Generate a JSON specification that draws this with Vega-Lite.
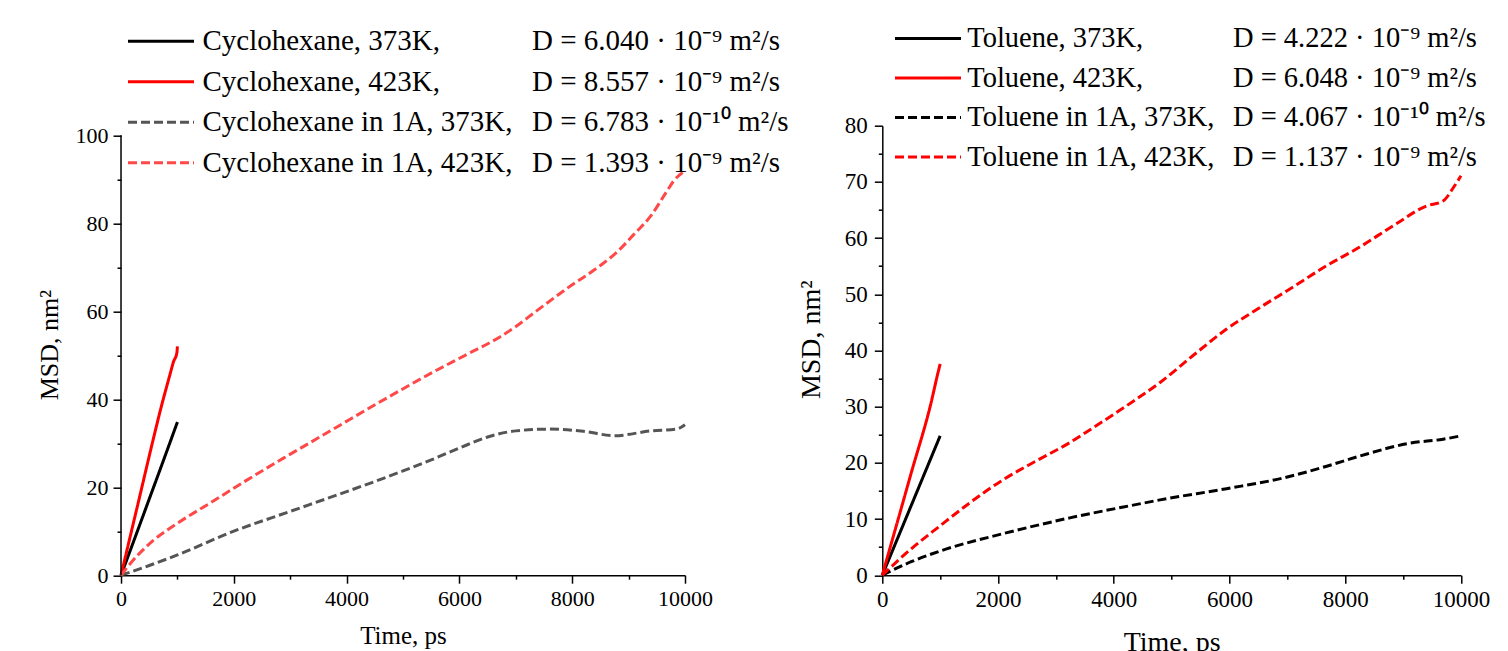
{
  "$schema": "https://vega.github.io/schema/vega-lite/v6.json",
  "background": "white",
  "padding": {"left": 36, "top": 23.7, "right": 0, "bottom": 0},
  "spacing": 8.3,
  "resolve": {
    "scale": {"color": "independent", "strokeDash": "independent", "shape": "independent"},
    "legend": {"color": "independent", "strokeDash": "independent", "shape": "independent"}
  },
  "config": {
    "view": {"stroke": null},
    "axis": {
      "grid": false,
      "labelFont": "Liberation Serif",
      "titleFont": "Liberation Serif",
      "labelColor": "#000",
      "titleColor": "#000",
      "titleFontWeight": "normal",
      "domainColor": "#000",
      "tickColor": "#000",
      "domainWidth": 1.5,
      "tickWidth": 1.5,
      "labelFlush": false,
      "labelOverlap": false,
      "format": "d"
    },
    "legend": {
      "labelFont": "Liberation Serif",
      "labelColor": "#000",
      "labelLimit": 1000,
      "padding": 0
    }
  },
  "datasets": {
    "cyclo": [
      {"s": "Cyclohexane, 373K,", "t": 0, "m": 0},
      {"s": "Cyclohexane, 373K,", "t": 250, "m": 8.6},
      {"s": "Cyclohexane, 373K,", "t": 500, "m": 17.3},
      {"s": "Cyclohexane, 373K,", "t": 750, "m": 26},
      {"s": "Cyclohexane, 373K,", "t": 1000, "m": 34.8},
      {"s": "Cyclohexane, 423K,", "t": 0, "m": 0},
      {"s": "Cyclohexane, 423K,", "t": 300, "m": 16.2},
      {"s": "Cyclohexane, 423K,", "t": 600, "m": 32.4},
      {"s": "Cyclohexane, 423K,", "t": 700, "m": 37.6},
      {"s": "Cyclohexane, 423K,", "t": 870, "m": 45.7},
      {"s": "Cyclohexane, 423K,", "t": 930, "m": 48.5},
      {"s": "Cyclohexane, 423K,", "t": 990, "m": 50.5},
      {"s": "Cyclohexane, 423K,", "t": 1000, "m": 52},
      {"s": "Cyclohexane in 1A, 373K,", "t": 0, "m": 0},
      {"s": "Cyclohexane in 1A, 373K,", "t": 500, "m": 2.2},
      {"s": "Cyclohexane in 1A, 373K,", "t": 1000, "m": 4.6},
      {"s": "Cyclohexane in 1A, 373K,", "t": 2000, "m": 10},
      {"s": "Cyclohexane in 1A, 373K,", "t": 3000, "m": 14.5},
      {"s": "Cyclohexane in 1A, 373K,", "t": 4000, "m": 19},
      {"s": "Cyclohexane in 1A, 373K,", "t": 4500, "m": 21.3},
      {"s": "Cyclohexane in 1A, 373K,", "t": 5000, "m": 23.7},
      {"s": "Cyclohexane in 1A, 373K,", "t": 5500, "m": 26.2},
      {"s": "Cyclohexane in 1A, 373K,", "t": 6000, "m": 28.9},
      {"s": "Cyclohexane in 1A, 373K,", "t": 6500, "m": 31.4},
      {"s": "Cyclohexane in 1A, 373K,", "t": 7000, "m": 32.8},
      {"s": "Cyclohexane in 1A, 373K,", "t": 7600, "m": 33.2},
      {"s": "Cyclohexane in 1A, 373K,", "t": 8200, "m": 32.7},
      {"s": "Cyclohexane in 1A, 373K,", "t": 8750, "m": 31.7},
      {"s": "Cyclohexane in 1A, 373K,", "t": 9400, "m": 32.8},
      {"s": "Cyclohexane in 1A, 373K,", "t": 9850, "m": 33.2},
      {"s": "Cyclohexane in 1A, 373K,", "t": 10000, "m": 34.2},
      {"s": "Cyclohexane in 1A, 423K,", "t": 0, "m": 0},
      {"s": "Cyclohexane in 1A, 423K,", "t": 300, "m": 4.6},
      {"s": "Cyclohexane in 1A, 423K,", "t": 573, "m": 7.9},
      {"s": "Cyclohexane in 1A, 423K,", "t": 1000, "m": 11.8},
      {"s": "Cyclohexane in 1A, 423K,", "t": 1580, "m": 16.4},
      {"s": "Cyclohexane in 1A, 423K,", "t": 2230, "m": 21.6},
      {"s": "Cyclohexane in 1A, 423K,", "t": 2880, "m": 26.6},
      {"s": "Cyclohexane in 1A, 423K,", "t": 3470, "m": 31},
      {"s": "Cyclohexane in 1A, 423K,", "t": 3950, "m": 34.6},
      {"s": "Cyclohexane in 1A, 423K,", "t": 4540, "m": 39},
      {"s": "Cyclohexane in 1A, 423K,", "t": 4950, "m": 42},
      {"s": "Cyclohexane in 1A, 423K,", "t": 5540, "m": 46.2},
      {"s": "Cyclohexane in 1A, 423K,", "t": 6135, "m": 50.2},
      {"s": "Cyclohexane in 1A, 423K,", "t": 6725, "m": 54.2},
      {"s": "Cyclohexane in 1A, 423K,", "t": 7020, "m": 56.7},
      {"s": "Cyclohexane in 1A, 423K,", "t": 7320, "m": 59.6},
      {"s": "Cyclohexane in 1A, 423K,", "t": 7910, "m": 65.2},
      {"s": "Cyclohexane in 1A, 423K,", "t": 8500, "m": 70.4},
      {"s": "Cyclohexane in 1A, 423K,", "t": 8800, "m": 73.5},
      {"s": "Cyclohexane in 1A, 423K,", "t": 9090, "m": 77.4},
      {"s": "Cyclohexane in 1A, 423K,", "t": 9390, "m": 81.6},
      {"s": "Cyclohexane in 1A, 423K,", "t": 9680, "m": 87.3},
      {"s": "Cyclohexane in 1A, 423K,", "t": 9800, "m": 89.6},
      {"s": "Cyclohexane in 1A, 423K,", "t": 10000, "m": 91.9}
    ],
    "cycloD": [
      {"d": "D = 6.040 · 10⁻⁹ m²/s", "t": 0, "m": 0},
      {"d": "D = 8.557 · 10⁻⁹ m²/s", "t": 0, "m": 0},
      {"d": "D = 6.783 · 10⁻¹⁰ m²/s", "t": 0, "m": 0},
      {"d": "D = 1.393 · 10⁻⁹ m²/s", "t": 0, "m": 0}
    ],
    "tol": [
      {"s": "Toluene, 373K,", "t": 0, "m": 0},
      {"s": "Toluene, 373K,", "t": 500, "m": 12.4},
      {"s": "Toluene, 373K,", "t": 1000, "m": 24.8},
      {"s": "Toluene, 423K,", "t": 0, "m": 0},
      {"s": "Toluene, 423K,", "t": 500, "m": 18.2},
      {"s": "Toluene, 423K,", "t": 850, "m": 31},
      {"s": "Toluene, 423K,", "t": 950, "m": 35.5},
      {"s": "Toluene, 423K,", "t": 1000, "m": 37.6},
      {"s": "Toluene in 1A, 373K,", "t": 0, "m": 0},
      {"s": "Toluene in 1A, 373K,", "t": 500, "m": 2.4},
      {"s": "Toluene in 1A, 373K,", "t": 1000, "m": 4.3},
      {"s": "Toluene in 1A, 373K,", "t": 2090, "m": 7.4},
      {"s": "Toluene in 1A, 373K,", "t": 3240, "m": 10.2},
      {"s": "Toluene in 1A, 373K,", "t": 4400, "m": 12.6},
      {"s": "Toluene in 1A, 373K,", "t": 4800, "m": 13.4},
      {"s": "Toluene in 1A, 373K,", "t": 5950, "m": 15.4},
      {"s": "Toluene in 1A, 373K,", "t": 6930, "m": 17.3},
      {"s": "Toluene in 1A, 373K,", "t": 7680, "m": 19.4},
      {"s": "Toluene in 1A, 373K,", "t": 8250, "m": 21.2},
      {"s": "Toluene in 1A, 373K,", "t": 9120, "m": 23.5},
      {"s": "Toluene in 1A, 373K,", "t": 9690, "m": 24.2},
      {"s": "Toluene in 1A, 373K,", "t": 10000, "m": 24.8},
      {"s": "Toluene in 1A, 423K,", "t": 0, "m": 0},
      {"s": "Toluene in 1A, 423K,", "t": 500, "m": 4.7},
      {"s": "Toluene in 1A, 423K,", "t": 1000, "m": 8.8},
      {"s": "Toluene in 1A, 423K,", "t": 1515, "m": 12.9},
      {"s": "Toluene in 1A, 423K,", "t": 2090, "m": 17},
      {"s": "Toluene in 1A, 423K,", "t": 2670, "m": 20.4},
      {"s": "Toluene in 1A, 423K,", "t": 3240, "m": 23.6},
      {"s": "Toluene in 1A, 423K,", "t": 3530, "m": 25.5},
      {"s": "Toluene in 1A, 423K,", "t": 4400, "m": 31.4},
      {"s": "Toluene in 1A, 423K,", "t": 4800, "m": 34.3},
      {"s": "Toluene in 1A, 423K,", "t": 5370, "m": 39.1},
      {"s": "Toluene in 1A, 423K,", "t": 5950, "m": 43.8},
      {"s": "Toluene in 1A, 423K,", "t": 6520, "m": 47.6},
      {"s": "Toluene in 1A, 423K,", "t": 7100, "m": 51.3},
      {"s": "Toluene in 1A, 423K,", "t": 7680, "m": 55.1},
      {"s": "Toluene in 1A, 423K,", "t": 8250, "m": 58.4},
      {"s": "Toluene in 1A, 423K,", "t": 8830, "m": 62.2},
      {"s": "Toluene in 1A, 423K,", "t": 9400, "m": 65.7},
      {"s": "Toluene in 1A, 423K,", "t": 9690, "m": 66.6},
      {"s": "Toluene in 1A, 423K,", "t": 9870, "m": 69},
      {"s": "Toluene in 1A, 423K,", "t": 10000, "m": 71.1}
    ],
    "tolD": [
      {"d": "D = 4.222 · 10⁻⁹ m²/s", "t": 0, "m": 0},
      {"d": "D = 6.048 · 10⁻⁹ m²/s", "t": 0, "m": 0},
      {"d": "D = 4.067 · 10⁻¹⁰ m²/s", "t": 0, "m": 0},
      {"d": "D = 1.137 · 10⁻⁹ m²/s", "t": 0, "m": 0}
    ]
  },
  "hconcat": [
    {
      "width": 564,
      "height": 449.5,
      "resolve": {"axis": {"x": "independent", "y": "independent"}},
      "layer": [
        {
          "data": {"name": "cyclo"},
          "mark": {"type": "line", "strokeWidth": 3, "interpolate": "monotone"},
          "encoding": {
            "x": {"field": "t", "type": "quantitative",
              "scale": {"domain": [0, 10000], "nice": false},
              "axis": {"values": [0, 2000, 4000, 6000, 8000, 10000], "title": "Time, ps",
                "tickSize": 8, "labelPadding": 5, "titlePadding": 14, "labelFontSize": 22, "titleFontSize": 25}},
            "y": {"field": "m", "type": "quantitative",
              "scale": {"domain": [0, 102.16], "nice": false},
              "axis": {"values": [0, 20, 40, 60, 80, 100], "title": "MSD, nm²", "domain": false,
                "tickSize": 8, "labelPadding": 5, "titlePadding": 13, "labelFontSize": 22, "titleFontSize": 26, "titleY": 219}},
            "color": {"field": "s", "type": "nominal",
              "scale": {"domain": ["Cyclohexane, 373K,", "Cyclohexane, 423K,", "Cyclohexane in 1A, 373K,", "Cyclohexane in 1A, 423K,"],
                "range": ["#000000", "#ff0000", "#555555", "#ff4848"]},
              "legend": {"orient": "none", "legendX": 7, "legendY": -99, "title": null,
                "symbolType": "M-3,0H3", "symbolSize": 484, "symbolStrokeWidth": 3, "symbolOffset": 18.5,
                "labelOffset": 27, "labelFontSize": 29, "rowPadding": 10.5}},
            "strokeDash": {"field": "s", "type": "nominal",
              "scale": {"domain": ["Cyclohexane, 373K,", "Cyclohexane, 423K,", "Cyclohexane in 1A, 373K,", "Cyclohexane in 1A, 423K,"],
                "range": [[1, 0], [1, 0], [9, 4], [9, 4]]},
              "legend": {"orient": "none", "legendX": 7, "legendY": -99, "title": null,
                "symbolType": "M-3,0H3", "symbolSize": 484, "symbolStrokeWidth": 3, "symbolOffset": 18.5,
                "labelOffset": 27, "labelFontSize": 29, "rowPadding": 10.5}}
          }
        },
        {
          "data": {"name": "cycloD"},
          "mark": {"type": "point", "opacity": 0},
          "encoding": {
            "x": {"field": "t", "type": "quantitative",
              "scale": {"domain": [0, 10000], "nice": false},
              "axis": {"orient": "bottom", "values": [1000, 3000, 5000, 7000, 9000], "labels": false, "domain": false, "tickSize": 4, "title": null}},
            "y": {"field": "m", "type": "quantitative",
              "scale": {"domain": [0, 102.16], "nice": false},
              "axis": {"orient": "left", "values": [10, 30, 50, 70, 90], "labels": false, "domain": false, "tickSize": 4, "title": null}},
            "shape": {"field": "d", "type": "nominal",
              "scale": {"domain": ["D = 6.040 · 10⁻⁹ m²/s", "D = 8.557 · 10⁻⁹ m²/s", "D = 6.783 · 10⁻¹⁰ m²/s", "D = 1.393 · 10⁻⁹ m²/s"]},
              "legend": {"orient": "none", "legendX": 382, "legendY": -99, "title": null,
                "symbolSize": 484, "symbolOpacity": 0, "labelOffset": 0, "labelFontSize": 29, "rowPadding": 10.5}}
          }
        },
        {
          "data": {"values": [{"t": 0, "m0": 0, "m1": 100}]},
          "mark": {"type": "rule", "strokeWidth": 1.5, "color": "#000"},
          "encoding": {
            "x": {"field": "t", "type": "quantitative", "scale": {"domain": [0, 10000], "nice": false}, "axis": null},
            "y": {"field": "m0", "type": "quantitative", "scale": {"domain": [0, 102.16], "nice": false}, "axis": null},
            "y2": {"field": "m1"}
          }
        }
      ]
    },
    {
      "width": 578.7,
      "height": 449.5,
      "resolve": {"axis": {"x": "independent", "y": "independent"}},
      "layer": [
        {
          "data": {"name": "tol"},
          "mark": {"type": "line", "strokeWidth": 3, "interpolate": "monotone"},
          "encoding": {
            "x": {"field": "t", "type": "quantitative",
              "scale": {"domain": [0, 10000], "nice": false},
              "axis": {"values": [0, 2000, 4000, 6000, 8000, 10000], "title": "Time, ps",
                "tickSize": 8, "labelPadding": 5, "titlePadding": 17, "labelFontSize": 23, "titleFontSize": 28}},
            "y": {"field": "m", "type": "quantitative",
              "scale": {"domain": [0, 80], "nice": false},
              "axis": {"values": [0, 10, 20, 30, 40, 50, 60, 70, 80], "title": "MSD, nm²",
                "tickSize": 8, "labelPadding": 7, "titlePadding": 19, "labelFontSize": 23, "titleFontSize": 28, "titleY": 213.5}},
            "color": {"field": "s", "type": "nominal",
              "scale": {"domain": ["Toluene, 373K,", "Toluene, 423K,", "Toluene in 1A, 373K,", "Toluene in 1A, 423K,"],
                "range": ["#000000", "#ff0000", "#000000", "#ff0000"]},
              "legend": {"orient": "none", "legendX": 12.7, "legendY": -101.5, "title": null,
                "symbolType": "M-3,0H3", "symbolSize": 484, "symbolStrokeWidth": 3, "symbolOffset": 18.75,
                "labelOffset": 25, "labelFontSize": 28.5, "rowPadding": 10.5}},
            "strokeDash": {"field": "s", "type": "nominal",
              "scale": {"domain": ["Toluene, 373K,", "Toluene, 423K,", "Toluene in 1A, 373K,", "Toluene in 1A, 423K,"],
                "range": [[1, 0], [1, 0], [9, 4], [9, 4]]},
              "legend": {"orient": "none", "legendX": 12.7, "legendY": -101.5, "title": null,
                "symbolType": "M-3,0H3", "symbolSize": 484, "symbolStrokeWidth": 3, "symbolOffset": 18.75,
                "labelOffset": 25, "labelFontSize": 28.5, "rowPadding": 10.5}}
          }
        },
        {
          "data": {"name": "tolD"},
          "mark": {"type": "point", "opacity": 0},
          "encoding": {
            "x": {"field": "t", "type": "quantitative",
              "scale": {"domain": [0, 10000], "nice": false},
              "axis": {"orient": "bottom", "values": [1000, 3000, 5000, 7000, 9000], "labels": false, "domain": false, "tickSize": 4, "title": null}},
            "y": {"field": "m", "type": "quantitative",
              "scale": {"domain": [0, 80], "nice": false},
              "axis": {"orient": "left", "values": [5, 15, 25, 35, 45, 55, 65, 75], "labels": false, "domain": false, "tickSize": 4, "title": null}},
            "shape": {"field": "d", "type": "nominal",
              "scale": {"domain": ["D = 4.222 · 10⁻⁹ m²/s", "D = 6.048 · 10⁻⁹ m²/s", "D = 4.067 · 10⁻¹⁰ m²/s", "D = 1.137 · 10⁻⁹ m²/s"]},
              "legend": {"orient": "none", "legendX": 322.2, "legendY": -101.5, "title": null,
                "symbolSize": 484, "symbolOpacity": 0, "labelOffset": 0, "labelFontSize": 28.5, "rowPadding": 10.5}}
          }
        }
      ]
    }
  ]
}
